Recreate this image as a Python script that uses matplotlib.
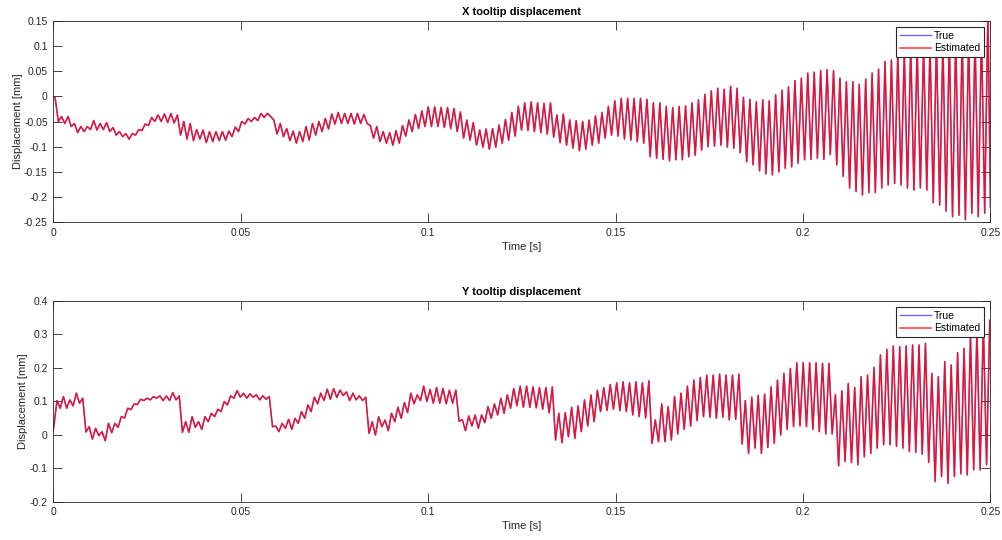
import numpy as np
import matplotlib
matplotlib.use('Agg')
import matplotlib.pyplot as plt
from matplotlib.ticker import FormatStrFormatter

plt.rcParams['font.family'] = ['Liberation Sans', 'DejaVu Sans']

# chatter period [s] and time of first ripple peak for each direction
period = 0.001716
x_first_peak = 0.0005
y_first_peak = 0.0010
t_end = 0.25

# X tooltip displacement [mm]: value at start, ripple peaks, ripple troughs, value at end
x_start = 0.0
x_end = -0.22
x_peaks = [
    -0.003, -0.040, -0.040, -0.054, -0.060, -0.060, -0.048, -0.054, -0.052, -0.062,
    -0.070, -0.074, -0.074, -0.066, -0.055, -0.042, -0.037, -0.035, -0.034, -0.037,
    -0.050, -0.054, -0.066, -0.067, -0.070, -0.070, -0.070, -0.069, -0.061, -0.050,
    -0.044, -0.042, -0.034, -0.034, -0.047, -0.054, -0.064, -0.069, -0.070, -0.060,
    -0.054, -0.050, -0.044, -0.035, -0.032, -0.034, -0.034, -0.034, -0.036, -0.058,
    -0.060, -0.070, -0.072, -0.068, -0.058, -0.047, -0.036, -0.029, -0.021, -0.021,
    -0.022, -0.022, -0.024, -0.031, -0.047, -0.052, -0.067, -0.065, -0.064, -0.057,
    -0.046, -0.032, -0.020, -0.013, -0.011, -0.013, -0.014, -0.013, -0.037, -0.035,
    -0.047, -0.048, -0.050, -0.047, -0.039, -0.032, -0.020, -0.009, -0.004, -0.004,
    -0.004, -0.004, -0.006, -0.013, -0.013, -0.020, -0.022, -0.020, -0.019, -0.013,
    -0.007, 0.004, 0.011, 0.016, 0.014, 0.020, 0.016, -0.002, -0.006, -0.011,
    -0.007, -0.009, 0.003, 0.012, 0.019, 0.031, 0.036, 0.046, 0.048, 0.051,
    0.053, 0.051, 0.036, 0.029, 0.029, 0.024, 0.034, 0.046, 0.054, 0.069,
    0.072, 0.089, 0.090, 0.100, 0.100, 0.100, 0.105, 0.110, 0.110, 0.115,
    0.120, 0.120, 0.120, 0.125, 0.130, 0.170,
]
x_troughs = [
    -0.050, -0.054, -0.060, -0.072, -0.070, -0.066, -0.067, -0.066, -0.070, -0.077,
    -0.080, -0.085, -0.077, -0.068, -0.058, -0.050, -0.050, -0.052, -0.053, -0.077,
    -0.085, -0.088, -0.085, -0.092, -0.090, -0.088, -0.087, -0.080, -0.070, -0.055,
    -0.050, -0.048, -0.042, -0.040, -0.075, -0.080, -0.088, -0.093, -0.090, -0.087,
    -0.077, -0.070, -0.065, -0.055, -0.054, -0.054, -0.055, -0.054, -0.054, -0.083,
    -0.090, -0.093, -0.097, -0.093, -0.079, -0.070, -0.064, -0.060, -0.060, -0.060,
    -0.062, -0.064, -0.070, -0.083, -0.087, -0.097, -0.101, -0.105, -0.101, -0.093,
    -0.087, -0.079, -0.067, -0.068, -0.070, -0.072, -0.075, -0.081, -0.092, -0.097,
    -0.103, -0.108, -0.105, -0.097, -0.093, -0.083, -0.077, -0.079, -0.085, -0.087,
    -0.090, -0.093, -0.120, -0.123, -0.125, -0.128, -0.126, -0.126, -0.120, -0.117,
    -0.107, -0.100, -0.099, -0.097, -0.101, -0.103, -0.112, -0.130, -0.136, -0.148,
    -0.154, -0.156, -0.150, -0.143, -0.140, -0.133, -0.126, -0.125, -0.123, -0.125,
    -0.116, -0.136, -0.159, -0.182, -0.189, -0.196, -0.191, -0.191, -0.182, -0.176,
    -0.173, -0.176, -0.182, -0.186, -0.182, -0.186, -0.211, -0.216, -0.228, -0.239,
    -0.236, -0.245, -0.232, -0.239, -0.232,
]

# Y tooltip displacement [mm]
y_start = 0.012
y_end = 0.28
y_peaks = [
    0.102, 0.114, 0.104, 0.124, 0.109, 0.024, 0.019, 0.009, 0.034, 0.034,
    0.054, 0.079, 0.092, 0.106, 0.109, 0.114, 0.116, 0.116, 0.126, 0.116,
    0.039, 0.054, 0.039, 0.054, 0.064, 0.076, 0.099, 0.116, 0.132, 0.124,
    0.122, 0.119, 0.116, 0.114, 0.026, 0.034, 0.046, 0.049, 0.069, 0.089,
    0.112, 0.124, 0.136, 0.138, 0.133, 0.128, 0.124, 0.116, 0.112, 0.039,
    0.054, 0.044, 0.064, 0.082, 0.096, 0.124, 0.119, 0.145, 0.135, 0.141,
    0.138, 0.133, 0.133, 0.045, 0.056, 0.059, 0.059, 0.084, 0.092, 0.109,
    0.119, 0.138, 0.145, 0.145, 0.143, 0.141, 0.141, 0.143, 0.064, 0.066,
    0.082, 0.086, 0.104, 0.119, 0.133, 0.141, 0.150, 0.155, 0.158, 0.155,
    0.158, 0.155, 0.161, 0.044, 0.092, 0.084, 0.114, 0.124, 0.145, 0.163,
    0.171, 0.178, 0.178, 0.181, 0.178, 0.178, 0.181, 0.102, 0.112, 0.118,
    0.121, 0.143, 0.163, 0.183, 0.198, 0.215, 0.215, 0.215, 0.215, 0.213,
    0.213, 0.120, 0.131, 0.153, 0.141, 0.173, 0.178, 0.201, 0.238, 0.255,
    0.265, 0.263, 0.265, 0.268, 0.268, 0.273, 0.183, 0.173, 0.218, 0.208,
    0.245, 0.258, 0.298, 0.313, 0.333, 0.342,
]
y_troughs = [
    0.079, 0.079, 0.086, 0.094, 0.008, -0.013, -0.003, -0.018, 0.006, 0.022,
    0.050, 0.075, 0.090, 0.102, 0.104, 0.109, 0.102, 0.102, 0.104, 0.007,
    0.007, 0.022, 0.016, 0.039, 0.054, 0.069, 0.089, 0.109, 0.112, 0.109,
    0.112, 0.104, 0.106, 0.024, 0.009, 0.019, 0.016, 0.034, 0.049, 0.069,
    0.092, 0.102, 0.106, 0.111, 0.117, 0.102, 0.104, 0.102, 0.004, -0.001,
    0.024, 0.012, 0.039, 0.049, 0.066, 0.092, 0.102, 0.099, 0.094, 0.094,
    0.092, 0.094, 0.040, 0.012, 0.026, 0.019, 0.036, 0.049, 0.059, 0.064,
    0.079, 0.086, 0.082, 0.082, 0.080, 0.076, 0.065, -0.016, -0.024, -0.006,
    -0.011, 0.009, 0.026, 0.039, 0.069, 0.072, 0.076, 0.072, 0.069, 0.059,
    0.054, 0.050, -0.026, -0.021, -0.021, -0.016, 0.002, 0.016, 0.026, 0.042,
    0.054, 0.052, 0.049, 0.052, 0.044, 0.046, -0.028, -0.056, -0.040, -0.056,
    -0.038, -0.026, -0.001, 0.016, 0.024, 0.026, 0.024, 0.016, 0.009, 0.002,
    0.002, -0.093, -0.080, -0.083, -0.090, -0.066, -0.056, -0.040, -0.030, -0.030,
    -0.035, -0.040, -0.050, -0.053, -0.058, -0.083, -0.140, -0.125, -0.145, -0.125,
    -0.117, -0.120, -0.105, -0.105, -0.090,
]

time_ticks = [0, 0.05, 0.1, 0.15, 0.2, 0.25]
x_ticks = [-0.25, -0.2, -0.15, -0.1, -0.05, 0, 0.05, 0.1, 0.15]
y_ticks = [-0.2, -0.1, 0, 0.1, 0.2, 0.3, 0.4]


def build_trace(first_peak, start, peaks, troughs, end):
    # peaks and troughs alternate, half a chatter period apart
    t_pk = first_peak + period * np.arange(len(peaks))
    t_tr = t_pk[:len(troughs)] + period / 2
    t = np.empty(len(peaks) + len(troughs))
    v = np.empty_like(t)
    t[0::2], t[1::2] = t_pk, t_tr
    v[0::2], v[1::2] = peaks, troughs
    t = np.concatenate([[0.0], t, [t_end]])
    v = np.concatenate([[start], v, [end]])
    return t, v


def style_axes(ax, title, ylim, yticks):
    ax.set_xlim(0, t_end)
    ax.set_ylim(*ylim)
    ax.set_xticks(time_ticks)
    ax.set_yticks(yticks)
    ax.xaxis.set_major_formatter(FormatStrFormatter('%g'))
    ax.yaxis.set_major_formatter(FormatStrFormatter('%g'))
    ax.tick_params(direction='in', length=6.5, width=0.6, top=True, right=True,
                   colors='0.15', labelsize=7.5, pad=4)
    for sp in ax.spines.values():
        sp.set_color('0.15')
        sp.set_linewidth(0.6)
    ax.set_title(title, fontsize=8, fontweight='bold', pad=4)
    ax.set_xlabel('Time [s]', fontsize=8, color='0.15', labelpad=3)
    ax.set_ylabel('Displacement [mm]', fontsize=8, color='0.15', labelpad=1)
    leg = ax.legend(loc='upper right', fontsize=7.5, fancybox=False, edgecolor='0.15',
                    framealpha=1, handlelength=3.0, borderaxespad=0.6,
                    borderpad=0.35, labelspacing=0.25, handletextpad=0.3)
    leg.get_frame().set_linewidth(0.8)


fig = plt.figure(figsize=(10.03, 5.40), dpi=100)
ax1 = fig.add_axes([0.0531, 0.5883, 0.9344, 0.3734])
ax2 = fig.add_axes([0.0531, 0.0709, 0.9344, 0.3722])

tx, vx = build_trace(x_first_peak, x_start, x_peaks, x_troughs, x_end)
ty, vy = build_trace(y_first_peak, y_start, y_peaks, y_troughs, y_end)

for ax, t, v in [(ax1, tx, vx), (ax2, ty, vy)]:
    ax.plot(t, v, color='blue', alpha=0.6, lw=1.0, label='True')
    ax.plot(t, v, color='red', alpha=0.8, lw=1.1, label='Estimated')

style_axes(ax1, 'X tooltip displacement', (-0.25, 0.15), x_ticks)
style_axes(ax2, 'Y tooltip displacement', (-0.2, 0.4), y_ticks)

fig.savefig('out.png', dpi=100)
